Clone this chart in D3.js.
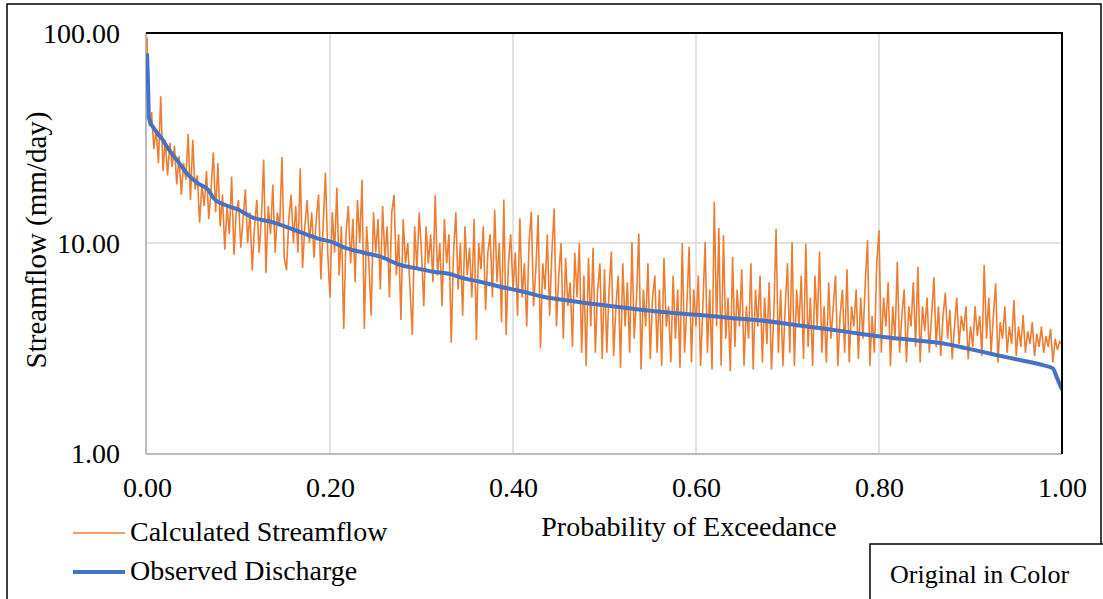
<!DOCTYPE html>
<html>
<head>
<meta charset="utf-8">
<script src="https://cdn.jsdelivr.net/npm/d3@7"></script>
<style>
  html, body { margin: 0; padding: 0; background: #fff; }
  svg { display: block; }
  text { font-family: "Liberation Serif", "Times New Roman", serif; fill: #000; }
</style>
</head>
<body>
<svg id="chart" width="1103" height="599"></svg>
<script>
// ---------- DATA ----------
const xTicks = [0, 0.2, 0.4, 0.6, 0.8, 1.0];
const yTicks = [1, 10, 100];
const seriesNames = ["Calculated Streamflow", "Observed Discharge"];

// Observed discharge: probability of exceedance and mm/day
const observedProb = [0, 0.0015, 0.002, 0.0087, 0.016, 0.023, 0.034, 0.045, 0.056, 0.067, 0.073, 0.085, 0.1, 0.114, 0.136, 0.162, 0.187, 0.205,
  0.211, 0.237, 0.255, 0.277, 0.295, 0.313, 0.331, 0.346, 0.364, 0.386, 0.408,
  0.433, 0.47, 0.506, 0.542, 0.579, 0.604,
  0.635, 0.672, 0.708, 0.745, 0.781, 0.807,
  0.837, 0.874, 0.896, 0.928, 0.954, 0.979, 0.99, 0.994, 1.0];
const observedFlow = [80, 49.7, 39.4, 34.5, 31.5, 28.2, 24.4, 21.1, 19.2, 17.9, 16.3, 15.2, 14.4, 13.3, 12.6, 11.5, 10.5, 10.0,
  9.7, 8.99, 8.61, 7.86, 7.57, 7.3, 7.12, 6.79, 6.54, 6.19, 5.91,
  5.55, 5.25, 5.01, 4.8, 4.63, 4.54,
  4.41, 4.27, 4.07, 3.88, 3.69, 3.56,
  3.45, 3.3, 3.15, 2.93, 2.77, 2.62, 2.53, 2.31, 2.0];

// Calculated streamflow (ranked by observed exceedance), mm/day
const calculatedFlow = [
  // 0.00 - 0.10
  95, 36, 42, 28, 35, 24, 50, 22, 31, 21, 30, 23, 29, 19, 26, 17, 24, 20, 33, 16,
  31, 18, 21, 12.5, 19, 15, 22, 13, 18, 27, 14, 24, 12, 17, 9.3, 15, 11, 20.7, 8.8, 14,
  // 0.10 - 0.20
  16, 9.5, 13, 18, 10, 14, 7.4, 12, 16, 9, 13, 25, 7.2, 15, 11, 19, 9, 14, 12, 25.7,
  8.5, 7.4, 13, 17, 10, 15, 9, 22.7, 7.6, 12, 16, 10, 14, 8.5, 13, 17, 6.7, 12, 21.6, 9,
  // 0.20 - 0.30
  5.5, 14, 9, 18.3, 7, 12, 3.9, 11, 15, 8, 13, 6.5, 16, 10, 20, 3.9, 12, 8, 4.5, 14,
  9, 13, 6, 15, 8.5, 12, 5.5, 14, 16.9, 7, 11, 4.3, 13, 8, 10, 6, 3.65, 12, 7.5, 14,
  // 0.30 - 0.40
  9, 5, 12, 8, 11, 6.5, 16.9, 7, 10, 5, 13, 8, 11, 3.35, 9, 14, 6, 10, 4.5, 12,
  7, 9.5, 5.5, 13, 3.45, 10, 7.5, 12, 4.8, 9, 11, 5.5, 14.4, 6.5, 10, 4.2, 16.1, 3.65, 8, 11,
  // 0.40 - 0.50
  6, 9, 4.5, 13.1, 5.5, 8, 4, 10, 14.1, 5, 7.5, 13.6, 3.15, 8, 6, 11, 4.5, 9, 14.6, 4,
  7, 10, 3.5, 8.5, 5, 6.5, 3.2, 9, 5.5, 10, 3, 7, 2.6, 8.5, 4, 9.5, 3, 6, 8, 2.8,
  // 0.50 - 0.60
  7.5, 3, 6, 9.1, 2.9, 5, 7, 2.55, 8, 4, 6.5, 3, 10.1, 3.5, 5.5, 11.1, 2.5, 6, 4, 8,
  2.8, 5.5, 7, 3, 6, 2.6, 8.5, 4, 5, 2.7, 7, 3.5, 6, 2.55, 10, 3, 5, 9.6, 2.7, 6,
  // 0.60 - 0.70
  4, 7, 2.6, 5, 10.1, 3, 6, 2.5, 15.7, 4, 11.8, 2.6, 10.9, 3.5, 5.5, 2.45, 8.6, 3.2, 6, 4,
  7.5, 2.6, 5, 3.5, 8, 2.5, 6, 4, 7, 2.7, 5.5, 3.3, 6.5, 2.5, 4.5, 11.7, 3, 6, 2.6, 5,
  // 0.70 - 0.80
  8, 3, 10.1, 2.6, 6, 4, 7, 2.8, 9.95, 3.2, 5.5, 2.6, 7, 4, 9.1, 3, 5, 2.7, 6.5, 3.5,
  5, 7, 2.6, 4.5, 6, 3, 7.5, 2.7, 5, 4, 6, 2.8, 5.5, 3.5, 6.5, 10.3, 2.6, 4.5, 3, 8,
  // 0.80 - 0.90
  11.5, 3, 5.5, 4, 6.5, 2.6, 5, 3.5, 8.15, 3, 4.5, 6, 2.7, 5, 4, 6.5, 3.2, 7.7, 2.7, 5,
  3.8, 5.5, 3, 4.5, 6.86, 3.2, 5, 2.9, 4.5, 5.8, 3.5, 4.8, 2.8, 4, 5.5, 3.3, 4.5, 3.8, 5, 2.8,
  // 0.90 - 1.00
  4, 3.2, 5, 3.6, 4.5, 2.9, 7.86, 3.5, 5.5, 3, 4.5, 6.43, 2.7, 4.2, 3.5, 5, 3, 4, 3.3, 5.35,
  2.9, 4, 3.2, 4.54, 3, 3.8, 3.3, 4.2, 2.9, 3.7, 3.2, 4, 3, 3.6, 3.2, 3.9, 2.7, 3.5, 3.1, 3.4,
  3.3
];

// ---------- CHART ----------
const svg = d3.select("#chart");
const plot = { left: 147, right: 1062, top: 33, bottom: 453 };
const orange = "#ED7D31", blue = "#4472C4";

const x = d3.scaleLinear().domain([0, 1]).range([plot.left, plot.right]);
const y = d3.scaleLog().domain([1, 100]).range([plot.bottom, plot.top]);

// outer border
svg.append("rect").attr("x", 7).attr("y", 4).attr("width", 1094).attr("height", 620)
  .attr("fill", "none").attr("stroke", "#000").attr("stroke-width", 1.5);

// gridlines
svg.append("g").selectAll("line").data(xTicks.slice(1, -1)).join("line")
  .attr("x1", d => x(d)).attr("x2", d => x(d))
  .attr("y1", plot.top).attr("y2", plot.bottom)
  .attr("stroke", "#d9d9d9").attr("stroke-width", 1.5);
svg.append("g").selectAll("line").data([10]).join("line")
  .attr("x1", plot.left).attr("x2", plot.right)
  .attr("y1", d => y(d)).attr("y2", d => y(d))
  .attr("stroke", "#d9d9d9").attr("stroke-width", 1.5);

// axes frame (gray left and bottom)
svg.append("line").attr("x1", plot.left - 1).attr("x2", plot.left - 1)
  .attr("y1", plot.top).attr("y2", plot.bottom + 1)
  .attr("stroke", "#a6a6a6").attr("stroke-width", 1.5);
svg.append("line").attr("x1", plot.left - 1).attr("x2", plot.right)
  .attr("y1", plot.bottom + 1).attr("y2", plot.bottom + 1)
  .attr("stroke", "#a6a6a6").attr("stroke-width", 1.5);

// clip
svg.append("clipPath").attr("id", "clip").append("rect")
  .attr("x", plot.left - 1).attr("y", plot.top).attr("width", plot.right - plot.left + 2).attr("height", plot.bottom - plot.top);

const N = calculatedFlow.length;
const calcData = calculatedFlow.map((v, i) => [i / (N - 1), v]);
const obsData = observedProb.map((p, i) => [p, observedFlow[i]]);

const lineCalc = d3.line().x(d => x(d[0])).y(d => y(d[1]));
const lineObs = d3.line().x(d => x(d[0])).y(d => y(d[1])).curve(d3.curveMonotoneX);

const g = svg.append("g").attr("clip-path", "url(#clip)");
g.append("path").datum(calcData).attr("d", lineCalc)
  .attr("fill", "none").attr("stroke", orange).attr("stroke-width", 1.6);
g.append("path").datum(obsData).attr("d", lineObs)
  .attr("fill", "none").attr("stroke", blue).attr("stroke-width", 4).attr("stroke-linejoin", "round");

// top and right black borders
svg.append("line").attr("x1", plot.left - 1).attr("x2", plot.right + 1)
  .attr("y1", plot.top).attr("y2", plot.top)
  .attr("stroke", "#000").attr("stroke-width", 2);
svg.append("line").attr("x1", plot.right).attr("x2", plot.right)
  .attr("y1", plot.top).attr("y2", plot.bottom + 1)
  .attr("stroke", "#000").attr("stroke-width", 2);

// y axis
const yAxis = d3.axisLeft(y).tickValues(yTicks).tickFormat(d3.format(".2f")).tickSize(0).tickPadding(0);
const gy = svg.append("g").attr("transform", `translate(${plot.left - 27},0)`).call(yAxis);
gy.select(".domain").remove();
gy.selectAll("text").attr("font-size", 28).attr("font-family", "Liberation Serif").attr("fill", "#000").attr("dy", "0.35em");

// x axis
const xAxis = d3.axisBottom(x).tickValues(xTicks).tickFormat(d3.format(".2f")).tickSize(0).tickPadding(0);
const gx = svg.append("g").attr("transform", `translate(0,${plot.bottom + 24})`).call(xAxis);
gx.select(".domain").remove();
gx.selectAll("text").attr("font-size", 28).attr("font-family", "Liberation Serif").attr("fill", "#000");

// axis titles
svg.append("text").attr("x", 689).attr("y", 536).attr("text-anchor", "middle")
  .attr("font-size", 28).text("Probability of Exceedance");
svg.append("text").attr("transform", "translate(46,240) rotate(-90)").attr("text-anchor", "middle")
  .attr("font-size", 29).text("Streamflow (mm/day)");

// legend
const legend = svg.append("g");
const legendY = [533, 572];
const legendColors = [orange, blue];
const legendWidths = [1.5, 4];
seriesNames.forEach((name, i) => {
  legend.append("line").attr("x1", 73).attr("x2", 125).attr("y1", legendY[i]).attr("y2", legendY[i])
    .attr("stroke", legendColors[i]).attr("stroke-width", legendWidths[i]);
  legend.append("text").attr("x", 130).attr("y", legendY[i] + 8).attr("font-size", 28).text(name);
});

// "Original in Color" box
svg.append("rect").attr("x", 870).attr("y", 544).attr("width", 260).attr("height", 100)
  .attr("fill", "#fff").attr("stroke", "#000").attr("stroke-width", 1.5);
svg.append("text").attr("x", 890).attr("y", 583).attr("font-size", 26).text("Original in Color");
</script>
</body>
</html>
